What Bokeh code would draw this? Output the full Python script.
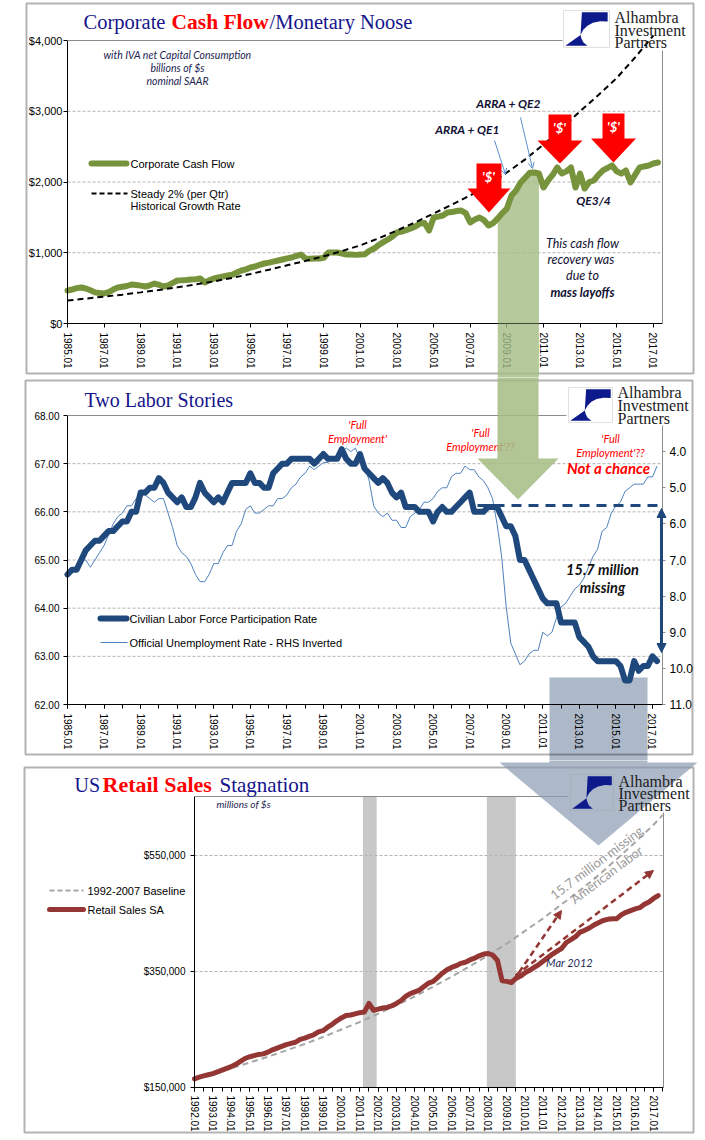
from bokeh.plotting import figure
from bokeh.models import (Range1d, LinearAxis, FixedTicker, NumeralTickFormatter,
                          CustomJSTickFormatter, Label, PolyAnnotation, BoxAnnotation,
                          Arrow, NormalHead, OpenHead)
from bokeh.layouts import column
from bokeh.embed import file_html
from bokeh.resources import INLINE

# ---------------- data ----------------
# Corporate cash flow, quarterly from 1985 Q1 (billions $, SAAR)
cash_flow_start = 1985
cash_flow = [466, 480, 500, 509, 495, 470, 440, 430, 424, 445, 480, 509,
             520, 530, 551, 545, 535, 523, 540, 565, 545, 523, 540, 575,
             608, 610, 615, 622, 625, 636, 580, 610, 636, 650, 665, 678,
             690, 720, 749, 765, 791, 805, 830, 848, 860, 875, 890, 905,
             920, 933, 955, 975, 919, 915, 919, 919, 930, 1003, 1005, 1003,
             990, 975, 975, 970, 975, 980, 1030, 1060, 1110, 1150, 1187, 1230,
             1286, 1300, 1320, 1343, 1370, 1413, 1420, 1314, 1498, 1510, 1526, 1569,
             1575, 1590, 1597, 1560, 1428, 1470, 1498, 1460, 1385, 1420, 1484, 1560,
             1625, 1809, 1880, 1993, 2060, 2130, 2134, 2120, 1922, 2021, 2100, 2205,
             2120, 2150, 2205, 1922, 2120, 1908, 2000, 2021, 2100, 2163, 2200, 2233,
             2150, 2120, 2163, 1993, 2100, 2205, 2220, 2233, 2261, 2276]
recovery_window = [2008.5, 2010.75]

# Steady 2% per quarter historical growth path (annual readings)
steady_years = list(range(1985, 2018))
steady_growth = [325, 352, 380, 408, 440, 474, 511, 552, 596, 645, 700, 760,
                 823, 885, 950, 1025, 1105, 1205, 1315, 1430, 1555, 1680, 1810,
                 1960, 2134, 2320, 2530, 2760, 3000, 3230, 3470, 3760, 4070]

# Labor force participation rate and unemployment rate, quarterly from 1985 Q1
labor_start = 1985
lfpr = [64.7, 64.8, 64.8, 65.0, 65.2, 65.3, 65.4, 65.4, 65.5, 65.6, 65.6, 65.7,
        65.8, 65.8, 66.0, 66.0, 66.4, 66.4, 66.5, 66.5, 66.7, 66.6, 66.4, 66.3,
        66.2, 66.3, 66.1, 66.1, 66.3, 66.6, 66.4, 66.3, 66.2, 66.3, 66.2, 66.4,
        66.6, 66.6, 66.6, 66.6, 66.8, 66.6, 66.6, 66.5, 66.5, 66.8, 66.9, 67.0,
        67.0, 67.1, 67.1, 67.1, 67.1, 67.1, 67.0, 67.1, 67.2, 67.1, 67.1, 67.1,
        67.3, 67.1, 67.0, 67.0, 67.2, 66.9, 66.8, 66.7, 66.6, 66.7, 66.6, 66.4,
        66.3, 66.4, 66.1, 66.1, 66.1, 66.0, 66.0, 66.0, 65.8, 66.0, 66.1, 66.0,
        66.0, 66.1, 66.2, 66.3, 66.4, 66.0, 66.0, 66.0, 66.1, 66.1, 66.1, 65.9,
        65.7, 65.7, 65.5, 65.0, 65.0, 64.8, 64.6, 64.4, 64.2, 64.1, 64.1, 64.1,
        63.7, 63.7, 63.7, 63.7, 63.4, 63.3, 63.2, 63.0, 62.9, 62.9, 62.9, 62.9,
        62.9, 62.8, 62.5, 62.5, 62.9, 62.7, 62.8, 62.8, 63.0, 62.9]
unemployment = [7.3, 7.3, 7.2, 7.0, 7.0, 7.2, 7.0, 6.8, 6.6, 6.3, 6.0, 5.8,
                5.7, 5.5, 5.5, 5.3, 5.2, 5.2, 5.3, 5.4, 5.3, 5.3, 5.7, 6.1,
                6.6, 6.8, 6.9, 7.1, 7.4, 7.6, 7.6, 7.4, 7.1, 7.1, 6.8, 6.6,
                6.6, 6.2, 6.0, 5.6, 5.5, 5.7, 5.7, 5.6, 5.5, 5.5, 5.3, 5.3,
                5.2, 5.0, 4.9, 4.7, 4.6, 4.4, 4.5, 4.4, 4.3, 4.3, 4.2, 4.1,
                4.0, 3.9, 4.0, 3.9, 4.2, 4.4, 4.8, 5.5, 5.7, 5.8, 5.7, 5.9,
                5.9, 6.1, 6.1, 5.8, 5.7, 5.6, 5.4, 5.4, 5.3, 5.1, 5.0, 5.0,
                4.7, 4.6, 4.6, 4.4, 4.5, 4.5, 4.7, 4.8, 5.0, 5.3, 6.0, 6.9,
                8.3, 9.3, 9.6, 9.9, 9.8, 9.6, 9.5, 9.5, 9.0, 9.1, 9.0, 8.6,
                8.3, 8.2, 8.0, 7.8, 7.7, 7.5, 7.2, 6.9, 6.7, 6.2, 6.1, 5.7,
                5.5, 5.4, 5.1, 5.0, 4.9, 4.9, 4.9, 4.7, 4.7, 4.4]
full_employment_lfpr = 66.13

# Retail sales SA, quarterly from 1992 Q1 (thousands of millions $)
retail_start = 1992
retail_sales_k = [165, 168, 170, 172, 174, 177, 180, 183, 186, 190, 195, 200,
                  203, 205, 207, 208, 211, 215, 218, 221, 224, 226, 228, 233,
                  235, 238, 241, 246, 248, 254, 259, 265, 270, 274, 275, 277,
                  279, 280, 295, 283, 285, 287, 288, 291, 295, 300, 307, 312,
                  315, 318, 324, 330, 333, 340, 347, 353, 357, 360, 364, 366,
                  370, 373, 377, 380, 381, 378, 369, 334, 333, 331, 338, 342,
                  348, 352, 357, 362, 368, 374, 380, 385, 390, 400, 405, 410,
                  418, 421, 425, 430, 434, 438, 440, 441, 441, 448, 452, 455,
                  458, 460, 466, 470, 476, 481]
baseline_years = list(range(1992, 2018)) + [2017.5]
baseline_k = [165, 174, 183, 193, 203, 214, 225, 237, 250, 263, 277, 292, 307,
              324, 341, 359, 378, 398, 420, 442, 466, 490, 516, 544, 573, 603, 620]
recession_start = [2001.17, 2007.92]
recession_end = [2001.92, 2009.5]

# ---------------- helpers ----------------
SANS = "Liberation Sans"
SERIF = "Liberation Serif"
CAL = "Lato"
NAVY = "#14148c"
RED = "#ff0000"
GREEN = "#77933c"
LFPR_C = "#1f497d"
UNEMP_C = "#4f81bd"
RETAIL_C = "#943634"
W = 705
PAGE_L, PAGE_R = 0, W


def mapper(x0, x1, X0, X1, y0, y1, Ybot, Ytop):
    def P(X, Y):
        return (x0 + (X - X0) * (x1 - x0) / (X1 - X0),
                y0 + (Ybot - Y) * (y1 - y0) / (Ybot - Ytop))
    return P


def full_range(v0, v1, A0, A1, C0, C1):
    # data v0..v1 drawn at page A0..A1; canvas spans page C0..C1
    k = (v1 - v0) / (A1 - A0)
    return v0 - (A0 - C0) * k, v1 + (C1 - A1) * k


def label(p, P, X, Y, s, size, color="black", font=SANS, style="normal",
          align="left", angle=0):
    x, y = P(X, Y)
    p.add_layout(Label(x=x, y=y, text=s, text_font=font, text_font_size=f"{size}px",
                       text_color=color, text_font_style=style, text_align=align,
                       text_baseline="middle", angle=angle, angle_units="deg"))


def poly(p, P, pts, fill=None, alpha=1.0, line=None, lw=1, level="annotation"):
    xy = [P(X, Y) for X, Y in pts]
    p.add_layout(PolyAnnotation(xs=[a for a, _ in xy], ys=[b for _, b in xy],
                                fill_color=fill, fill_alpha=alpha if fill else 0,
                                line_color=line, line_width=lw, level=level))


def seg(p, P, X1, Y1, X2, Y2, color, lw=1, dash="solid", start=None, end=None,
        cap="butt", level="annotation"):
    x1, y1 = P(X1, Y1)
    x2, y2 = P(X2, Y2)
    p.add_layout(Arrow(x_start=x1, y_start=y1, x_end=x2, y_end=y2, start=start, end=end,
                       line_color=color, line_width=lw, line_dash=dash, line_cap=cap,
                       level=level))


def logo(p, P, bx0, by0, bx1, by1, tx, tys):
    w, h = bx1 - bx0, by1 - by0

    def r(u, v):
        return (bx0 + u * w, by0 + v * h)
    poly(p, P, [r(0, 0), r(1, 0), r(1, 1), r(0, 1)], fill=None, line="#9c9c9c", lw=1)
    top = [(0.40, 0.05), (0.96, 0.05), (0.96, 0.30), (0.80, 0.29), (0.64, 0.33),
           (0.52, 0.41), (0.43, 0.52), (0.37, 0.66)]
    bot = [(0.04, 0.95), (0.52, 0.95), (0.43, 0.86), (0.39, 0.76), (0.37, 0.66)]
    poly(p, P, [r(u, v) for u, v in top], fill="#0d1a8c", line=None)
    poly(p, P, [r(u, v) for u, v in bot], fill="#0d1a8c", line=None)
    for t, y in zip(["Alhambra", "Investment", "Partners"], tys):
        label(p, P, tx, y, t, 16, color="#222222", font=SERIF)


def down_arrow(p, P, Xc, Ytop, Yhead, Ytip, shaft, head, color, alpha=1.0, level="annotation"):
    pts = [(Xc - shaft, Ytop), (Xc + shaft, Ytop), (Xc + shaft, Yhead), (Xc + head, Yhead),
           (Xc, Ytip), (Xc - head, Yhead), (Xc - shaft, Yhead)]
    poly(p, P, pts, fill=color, alpha=alpha, line=None, level=level)


def style_axis(ax, size=10):
    ax.axis_line_color = "black"
    ax.axis_line_width = 1
    ax.major_tick_line_color = "black"
    ax.major_tick_out = 4
    ax.major_tick_in = 0
    ax.minor_tick_line_color = None
    ax.major_label_text_font = SANS
    ax.major_label_text_font_size = f"{size}px"
    ax.major_label_text_color = "black"


def panel_fig(xdata, ydata, Xpage, Ypage, canvas_top, canvas_bottom):
    # the frame covers the whole canvas; the plot box is placed through the ranges
    xr = full_range(xdata[0], xdata[1], Xpage[0], Xpage[1], PAGE_L, PAGE_R)
    yr = full_range(ydata[0], ydata[1], -Ypage[1], -Ypage[0], -canvas_bottom, -canvas_top)
    p = figure(width=W, height=canvas_bottom - canvas_top, x_range=Range1d(*xr),
               y_range=Range1d(*yr), output_backend="svg", toolbar_location=None,
               min_border_left=0, min_border_right=0, min_border_top=0, min_border_bottom=0)
    p.outline_line_color = None
    p.background_fill_color = "white"
    p.border_fill_color = "white"
    p.xgrid.visible = False
    p.ygrid.visible = False
    p.xaxis.fixed_location = ydata[0]
    p.xaxis.bounds = tuple(xdata)
    p.yaxis.fixed_location = xdata[0]
    p.yaxis.bounds = tuple(ydata)
    for ax in (p.xaxis[0], p.yaxis[0]):
        style_axis(ax)
    p.xaxis.major_label_orientation = "vertical"
    p.xaxis.formatter = CustomJSTickFormatter(code="return tick.toFixed(0) + '.01'")
    return p


def gridlines(p, xdata, values):
    p.segment(x0=[xdata[0]] * len(values), x1=[xdata[1]] * len(values), y0=values, y1=values,
              line_color="#b4b4b4", line_width=1, line_dash="3 2")


# ================= Panel 1 =================
X1D, Y1D = (1985, 2017.5), (0, 4000)
P1 = mapper(X1D[0], X1D[1], 67, 662, Y1D[0], Y1D[1], 323, 40)
p1 = panel_fig(X1D, Y1D, (67, 662), (40, 323), 0, 377)
p1.xaxis.ticker = FixedTicker(ticks=list(range(1985, 2018, 2)))
p1.xaxis.major_label_standoff = 5
p1.yaxis.ticker = FixedTicker(ticks=[0, 1000, 2000, 3000, 4000])
p1.yaxis.formatter = NumeralTickFormatter(format="$0,0")
p1.yaxis.major_label_text_font_size = "11px"
p1.yaxis.major_label_standoff = 1
gridlines(p1, X1D, [1000, 2000, 3000])

poly(p1, P1, [(26, 3), (693, 3), (693, 373), (26, 373)], line="black", lw=2)

cf_x = [cash_flow_start + i / 4 for i in range(len(cash_flow))]
band = [(x, v) for x, v in zip(cf_x, cash_flow) if recovery_window[0] <= x <= recovery_window[1]]
p1.varea(x=[b[0] for b in band], y1=0, y2=[b[1] for b in band], fill_color="#a3bb83", fill_alpha=0.8)
p1.add_layout(BoxAnnotation(left=recovery_window[0], right=recovery_window[1], top=0, bottom=-1200,
                            fill_color="#a3bb83", fill_alpha=0.8, line_color=None))
p1.line(cf_x, cash_flow, line_color=GREEN, line_width=6, line_join="round", line_cap="round")
p1.line(steady_years, steady_growth, line_color="black", line_width=2, line_dash="6 4")

seg(p1, P1, 67, 40, 562, 40, "#8c8c8c", 1)
seg(p1, P1, 662, 50, 662, 323, "#8c8c8c", 1)

label(p1, P1, 83, 21, "Corporate", 20.5, NAVY, SERIF)
label(p1, P1, 171, 21, "Cash Flow", 21.5, RED, SERIF, "bold")
label(p1, P1, 269, 21, "/Monetary Noose", 20.5, NAVY, SERIF)
for t, y in zip(["with IVA net Capital Consumption", "billions of $s", "nominal SAAR"], [54, 67, 80]):
    label(p1, P1, 177, y, t, 10.5, "#1c2450", CAL, "italic", "center")

seg(p1, P1, 91, 163, 126, 163, GREEN, 6, cap="round")
label(p1, P1, 130, 163, "Corporate Cash Flow", 11)
seg(p1, P1, 91, 193, 127, 193, "black", 2, dash="5 3")
label(p1, P1, 130, 193, "Steady 2% (per Qtr)", 11)
label(p1, P1, 130, 205, "Historical Growth Rate", 11)

down_arrow(p1, P1, 488.5, 163, 188, 212, 12.5, 21.5, RED)
down_arrow(p1, P1, 559.5, 114, 140, 163, 11.5, 22.5, RED)
down_arrow(p1, P1, 613, 113, 138, 162, 11, 22.5, RED)
for X, Y in [(488, 176), (559, 127), (613, 126)]:
    label(p1, P1, X, Y, "'$'", 13, "white", CAL, "bold italic", "center")

label(p1, P1, 508, 103, "ARRA + QE2", 12, "#111133", CAL, "bold italic", "center")
label(p1, P1, 467, 129, "ARRA + QE1", 12, "#111133", CAL, "bold italic", "center")
seg(p1, P1, 494, 140, 505, 174, "#5b8fd0", 1,
    end=OpenHead(size=6, line_color="#5b8fd0", line_width=1))
seg(p1, P1, 520, 117, 532, 168, "#5b8fd0", 1,
    end=OpenHead(size=6, line_color="#5b8fd0", line_width=1))
label(p1, P1, 593, 200, "QE3/4", 12, "#111133", CAL, "bold italic", "center")
for t, y, st in [("This cash flow", 243, "italic"), ("recovery  was", 259, "italic"),
                 ("due to", 275, "italic"), ("mass layoffs", 292, "bold italic")]:
    label(p1, P1, 582, y, t, 12.5, "#111133", CAL, st, "center")

logo(p1, P1, 563, 10, 609, 47, 614, [17, 30, 42])

# ================= Panel 2 =================
X2D, Y2D = (1985, 2017.55), (62, 68)
P2 = mapper(X2D[0], X2D[1], 67, 662, Y2D[0], Y2D[1], 704, 415)
p2 = panel_fig(X2D, Y2D, (67, 662), (415, 704), 377, 760)
ur = full_range(11, 3, -704, -415, -760, -377)
p2.extra_y_ranges = {"u": Range1d(*ur)}
p2.xaxis.ticker = FixedTicker(ticks=list(range(1985, 2018, 2)), minor_ticks=list(range(1985, 2018)))
p2.xaxis.minor_tick_line_color = "black"
p2.xaxis.minor_tick_out = 4
p2.xaxis.minor_tick_in = 0
p2.xaxis.major_label_standoff = 5
p2.yaxis.ticker = FixedTicker(ticks=[62, 63, 64, 65, 66, 67, 68])
p2.yaxis.formatter = NumeralTickFormatter(format="0.00")
p2.yaxis.major_label_standoff = 4
ra = LinearAxis(y_range_name="u", ticker=FixedTicker(ticks=[4, 5, 6, 7, 8, 9, 10, 11]),
                formatter=NumeralTickFormatter(format="0.0"), fixed_location=X2D[1],
                bounds=(3, 11))
style_axis(ra, 12)
ra.axis_line_color = None
ra.major_tick_line_color = "#8c8c8c"
ra.major_tick_out = 3
ra.major_label_standoff = 4
p2.add_layout(ra, "right")
gridlines(p2, X2D, [63, 64, 65, 66, 67])

poly(p2, P2, [(25, 380), (692, 380), (692, 754), (25, 754)], line="black", lw=2)
# gray arrow shaft (continues into the next panel)
poly(p2, P2, [(549, 677), (647, 677), (647, 770), (549, 770)], fill="#8a9bb2", alpha=0.7,
     level="underlay")

lab_x = [labor_start + i / 4 for i in range(len(lfpr))]
p2.line(lab_x, unemployment, y_range_name="u", line_color=UNEMP_C, line_width=1)
p2.line(lab_x, lfpr, line_color=LFPR_C, line_width=6, line_join="round", line_cap="round")

seg(p2, P2, 67, 415, 566, 415, "#8c8c8c", 1)
seg(p2, P2, 662, 425, 662, 704, "#8c8c8c", 1)

label(p2, P2, 84, 399, "Two Labor Stories", 20, NAVY, SERIF)
for (t1, t2, X, Y) in [("'Full", "Employment'", 357, 424), ("'Full", "Employment'??", 480, 432),
                       ("'Full", "Employment'??", 610, 438)]:
    label(p2, P2, X, Y, t1, 11, RED, CAL, "italic", "center")
    label(p2, P2, X, Y + 13.5, t2, 11, RED, CAL, "italic", "center")
label(p2, P2, 608, 467, "Not a chance", 15, RED, CAL, "bold italic", "center")

x0, _ = P2(477, 505)
x1, _ = P2(657, 505)
p2.add_layout(Arrow(x_start=x0, y_start=full_employment_lfpr, x_end=x1, y_end=full_employment_lfpr,
                    end=None, line_color=LFPR_C, line_width=3, line_dash="10 7"))
seg(p2, P2, 661, 508, 661, 652, LFPR_C, 3,
    start=NormalHead(size=9, fill_color=LFPR_C, line_color=LFPR_C),
    end=NormalHead(size=9, fill_color=LFPR_C, line_color=LFPR_C))
label(p2, P2, 602, 569, "15.7 million", 14.5, "#111111", CAL, "bold italic", "center")
label(p2, P2, 602, 587, "missing", 14.5, "#111111", CAL, "bold italic", "center")

seg(p2, P2, 100, 618, 126, 618, LFPR_C, 6, cap="round")
label(p2, P2, 129, 618, "Civilian Labor Force Participation Rate", 11)
seg(p2, P2, 100, 642, 127, 642, UNEMP_C, 1)
label(p2, P2, 129, 642, "Official Unemployment Rate - RHS Inverted", 11)

# green arrow coming from panel 1
down_arrow(p2, P2, 517.5, 370, 458, 499, 20.5, 40.5, "#a3bb83", alpha=0.85)

logo(p2, P2, 568, 387, 612, 422, 617, [392, 405, 418])

# ================= Panel 3 =================
X3D, Y3D = (1992, 2017.54), (150000, 651724)
P3 = mapper(X3D[0], X3D[1], 194, 663, Y3D[0], Y3D[1], 1087, 796)
p3 = panel_fig(X3D, Y3D, (194, 663), (796, 1087), 760, 1140)
p3.xaxis.ticker = FixedTicker(ticks=list(range(1992, 2018)),
                              minor_ticks=[1992 + 0.5 * i for i in range(52)])
p3.xaxis.minor_tick_line_color = "black"
p3.xaxis.minor_tick_out = 4
p3.xaxis.minor_tick_in = 0
p3.xaxis.major_label_standoff = 4
p3.yaxis.ticker = FixedTicker(ticks=[150000, 350000, 550000])
p3.yaxis.formatter = NumeralTickFormatter(format="$0,0")
p3.yaxis.major_label_standoff = 5
gridlines(p3, X3D, [350000, 550000])

poly(p3, P3, [(24, 767), (693, 767), (693, 1132), (24, 1132)], line="black", lw=2)

p3.quad(left=recession_start, right=recession_end, bottom=Y3D[0], top=Y3D[1],
        fill_color="#c8c8c8", line_color=None, level="underlay")

rs_x = [retail_start + i / 4 for i in range(len(retail_sales_k))]
p3.line(baseline_years, [v * 1000 for v in baseline_k], line_color="#a6a6a6", line_width=2,
        line_dash="6 4")
p3.line(rs_x, [v * 1000 for v in retail_sales_k], line_color=RETAIL_C, line_width=5,
        line_join="round", line_cap="round")

seg(p3, P3, 194, 796, 568, 796, "#8c8c8c", 1)
seg(p3, P3, 663, 812, 663, 1087, "#8c8c8c", 1)

seg(p3, P3, 513, 980, 561, 910, RETAIL_C, 2.5, dash="6 4",
    end=NormalHead(size=8, fill_color=RETAIL_C, line_color=RETAIL_C))
seg(p3, P3, 515, 975, 653, 870, RETAIL_C, 2.5, dash="6 4",
    end=NormalHead(size=8, fill_color=RETAIL_C, line_color=RETAIL_C))
label(p3, P3, 569, 962, "Mar 2012", 11, "#1f2a5a", CAL, "italic", "center")
label(p3, P3, 596, 862, "15.7 million missing", 13, "#9a9a9a", CAL, "normal", "center", 37)
label(p3, P3, 606, 874, "American labor", 13, "#9a9a9a", CAL, "normal", "center", 37)

label(p3, P3, 74, 784, "US", 20, NAVY, SERIF)
label(p3, P3, 102, 784, "Retail Sales", 22, RED, SERIF, "bold")
label(p3, P3, 219, 784, "Stagnation", 21, NAVY, SERIF)
label(p3, P3, 216, 803, "millions of $s", 10, "#1c2450", CAL, "italic")

seg(p3, P3, 49, 890, 83, 890, "#a6a6a6", 2, dash="5 3")
label(p3, P3, 87, 890, "1992-2007 Baseline", 11)
seg(p3, P3, 49, 909, 83, 909, RETAIL_C, 5, cap="round")
label(p3, P3, 87, 909, "Retail Sales SA", 11)

# gray arrow head coming from panel 2
poly(p3, P3, [(549, 750), (647, 750), (647, 762), (697, 762), (598, 845), (499, 762), (549, 762)],
     fill="#8a9bb2", alpha=0.7)

logo(p3, P3, 570, 774, 613, 810, 618, [781, 793, 805])

layout = column(p1, p2, p3, spacing=0)
open("out.html", "w").write(file_html(layout, INLINE))
